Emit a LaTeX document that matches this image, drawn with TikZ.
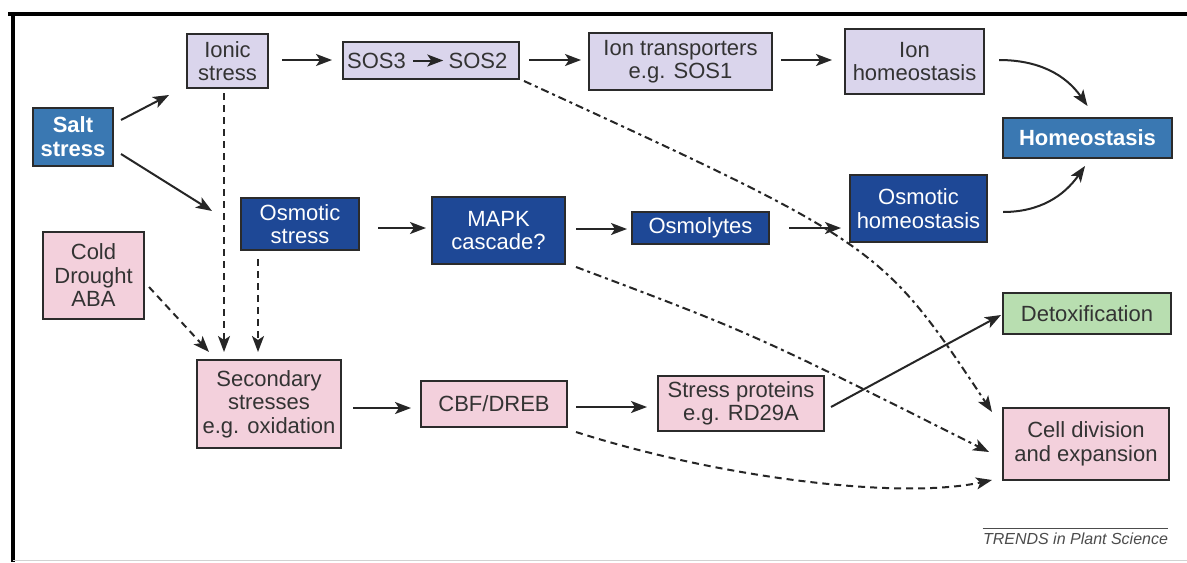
\documentclass[tikz,border=0pt]{standalone}
\usepackage{fontspec}
\setmainfont{Liberation Sans}
\usetikzlibrary{arrows.meta}
\definecolor{lav}{HTML}{DAD5EC}
\definecolor{pinkc}{HTML}{F3D0DC}
\definecolor{greenc}{HTML}{B8DEB0}
\definecolor{steel}{HTML}{3A78B2}
\definecolor{navy}{HTML}{1E4896}
\definecolor{boxline}{HTML}{2B2B2B}
\definecolor{txt}{HTML}{333333}
\begin{document}
\begin{tikzpicture}[x=0.5pt,y=-0.5pt,
  box/.style={draw=boxline, line width=1pt, inner sep=0pt, align=center,
    font=\fontsize{11}{11.75}\selectfont, text=txt},
  lavbox/.style={box, fill=lav},
  pinkbox/.style={box, fill=pinkc},
  greenbox/.style={box, fill=greenc},
  bluebox/.style={box, fill=steel, text=white, font=\fontsize{11}{12}\selectfont\bfseries},
  navybox/.style={box, fill=navy, text=white},
  plain/.style={inner sep=0pt, font=\fontsize{11}{11.75}\selectfont, text=txt},
  arr/.style={line width=1pt, draw=black!85, -{Stealth[length=8pt,width=6pt,inset=2pt]}},
  darr/.style={arr, dash pattern=on 3.5pt off 2.5pt},
  ddarr/.style={arr, dash pattern=on 4pt off 2pt on 1.5pt off 2pt},
]
\useasboundingbox (0,0) rectangle (1187,562);
\fill[white] (0,0) rectangle (1187,562);
% frame
\draw[line width=2pt] (8,14) -- (1187,14);
\draw[line width=2pt] (13,13) -- (13,562);
\draw[line width=0.5pt, gray!35] (13,560.5) -- (1187,560.5);

% nodes
\node[bluebox, minimum width=40pt, minimum height=29pt] (salt) at (73,137) {Salt\\stress};
\node[lavbox, minimum width=40.5pt, minimum height=27pt] (ionic) at (227.5,61) {Ionic\\stress};
\node[lavbox, minimum width=88pt, minimum height=18.5pt] (sos) at (431,60.5) {};
\node[plain] (sos3) at (376.5,60.5) {SOS3};
\node[plain] (sos2) at (478,60.5) {SOS2};
\node[lavbox, minimum width=91.5pt, minimum height=28.5pt] (iontr) at (680.5,61.5) {Ion transporters\\e.g. SOS1};
\node[lavbox, minimum width=69.5pt, minimum height=32.5pt] (ionhom) at (914.5,61.5) {Ion\\homeostasis};
\node[bluebox, minimum width=84.5pt, minimum height=20pt] (homeo) at (1087.5,138) {Homeostasis};
\node[navybox, minimum width=68.5pt, minimum height=33.5pt] (osmhom) at (918.5,208.5) {Osmotic\\homeostasis};
\node[navybox, minimum width=59pt, minimum height=26pt] (osm) at (300,224) {Osmotic\\stress};
\node[navybox, minimum width=66.5pt, minimum height=33.5pt] (mapk) at (498.5,230.5) {MAPK\\cascade?};
\node[navybox, minimum width=68.5pt, minimum height=16pt] (osmol) at (700.5,228) {Osmolytes};
\node[pinkbox, minimum width=50.5pt, minimum height=43.5pt] (cold) at (93.5,275.5) {Cold\\Drought\\ABA};
\node[pinkbox, minimum width=72pt, minimum height=44pt] (sec) at (269,404) {Secondary\\stresses\\e.g. oxidation};
\node[pinkbox, minimum width=73pt, minimum height=23pt] (cbf) at (494,404) {CBF/DREB};
\node[pinkbox, minimum width=83pt, minimum height=27.5pt] (sprot) at (741,403.5) {Stress proteins\\e.g. RD29A};
\node[greenbox, minimum width=84pt, minimum height=20.5pt] (detox) at (1087,313.5) {Detoxification};
\node[pinkbox, minimum width=83pt, minimum height=36pt] (cell) at (1086,444) {Cell division\\and expansion};
\node[inner sep=0pt, font=\fontsize{8}{9}\selectfont\itshape, text=black!70] (trends) at (1075.5,539) {TRENDS in Plant Science};
\draw[line width=0.5pt, black!70] ([yshift=2pt]trends.north west) -- ([yshift=2pt]trends.north east);

% solid arrows
\draw[arr] ([shift={(7,-17)}]salt.east) -- ([shift={(-17,6)}]ionic.south west);
\draw[arr] ([shift={(7,17)}]salt.east) -- ([shift={(-28,14)}]osm.north west);
\draw[arr] ([shift={(13,-1)}]ionic.east) -- ([shift={(-10,-0.5)}]sos.west);
\draw[arr] ([shift={(7,0)}]sos3.east) -- ([shift={(-5,0)}]sos2.west);
\draw[arr] ([shift={(9,-0.5)}]sos.east) -- ([shift={(-7,-1.5)}]iontr.west);
\draw[arr] ([shift={(8,-1.5)}]iontr.east) -- ([shift={(-12,-1.5)}]ionhom.west);
\draw[arr] ([shift={(14,-1.5)}]ionhom.east) to[out=0,in=125] ([shift={(0,-11)}]homeo.north);
\draw[arr] ([shift={(15,3.5)}]osmhom.east) to[out=0,in=-125] ([shift={(-2.5,7)}]homeo.south);
\draw[arr] ([shift={(18,4)}]osm.east) -- ([shift={(-5,-2.5)}]mapk.west);
\draw[arr] ([shift={(10,-1.5)}]mapk.east) -- ([shift={(-4,1)}]osmol.west);
\draw[arr] ([shift={(19,0)}]osmol.east) -- ([shift={(-8,19.5)}]osmhom.west);
\draw[arr] ([shift={(11,4)}]sec.east) -- ([shift={(-9,4)}]cbf.west);
\draw[arr] ([shift={(8,3)}]cbf.east) -- ([shift={(-10,3.5)}]sprot.west);
\draw[arr] ([shift={(6,3.5)}]sprot.east) -- ([shift={(-1,1.5)}]detox.west);

% dashed arrows
\draw[darr] ([shift={(-3.5,4)}]ionic.south) -- ([shift={(-45,-7)}]sec.north);
\draw[darr] ([shift={(-42,8)}]osm.south) -- ([shift={(-11,-7)}]sec.north);
\draw[darr] ([shift={(4,11.5)}]cold.east) -- ([shift={(13,-7)}]sec.north west);
\draw[ddarr] ([shift={(4,1)}]sos.south east) .. controls (881,245) .. ([shift={(-10,5)}]cell.north west);
\draw[ddarr] ([shift={(10,2)}]mapk.south east) .. controls (754,334) .. ([shift={(-13,8)}]cell.west);
\draw[darr] ([shift={(8,4)}]cbf.south east) .. controls (720,478) and (900,500) .. ([shift={(-10,-1)}]cell.south west);
\end{tikzpicture}
\end{document}
